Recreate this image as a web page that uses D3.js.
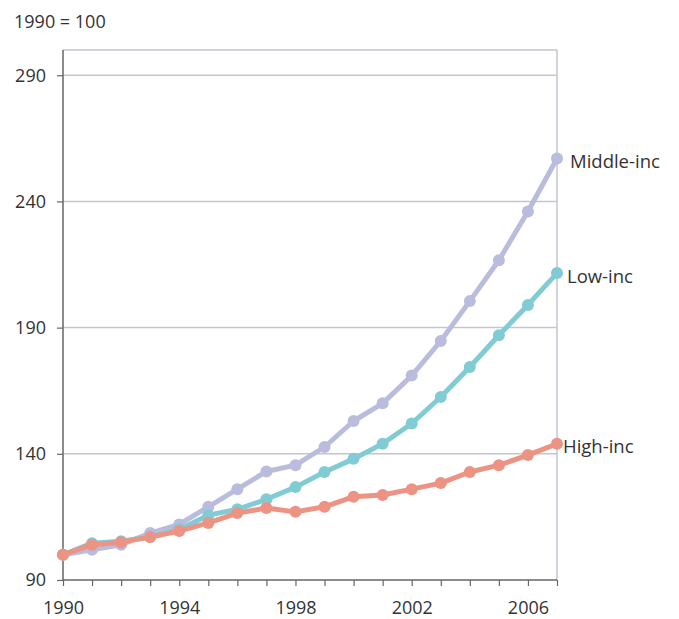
<!DOCTYPE html>
<html><head><meta charset="utf-8">
<script src="https://cdn.jsdelivr.net/npm/d3@7"></script>
<style>body{margin:0;background:#fff}svg{display:block}text{font-family:"Open Sans",Lato,sans-serif;fill:#333}</style>
</head><body><svg id="c" width="679" height="619"></svg>
<script>
const years = d3.range(1990, 2008);
const middleInc = [100,102,104,108.6,112,119,126,133,135.5,142.7,153,160,171,184.7,200.5,216.7,236,257];
const lowInc    = [100,104.6,105.4,107,110,115.7,118,122,126.8,132.8,138,144,152,162.5,174.4,187,199,211.6];
const highInc   = [100,104,105,107,109.4,112.6,116.5,118.5,117,119,123,123.7,126,128.4,132.8,135.5,139.5,144];
const yTicks = [90,140,190,240,290];
const xTickLabels = [1990,1994,1998,2002,2006];
const seriesNames = ["Middle-inc","Low-inc","High-inc"];
const seriesColors = ["#b9bcdc","#80cbd4","#ec9383"];
const labelOffsets = [13,10,6];

const svg = d3.select("#c");
const L=63,R=557,T=50,B=580;
const x = d3.scaleLinear().domain([1990,2007]).range([L,R]);
const y = d3.scaleLinear().domain([90,300]).range([B,T]);

// grid
svg.append("g").selectAll("line").data(yTicks.slice(1)).join("line")
  .attr("x1",L).attr("x2",R).attr("y1",d=>y(d)).attr("y2",d=>y(d))
  .attr("stroke","#c2c6cf").attr("stroke-width",1.5);
svg.append("line").attr("x1",L).attr("x2",R).attr("y1",T).attr("y2",T).attr("stroke","#c2c6cf").attr("stroke-width",1.5);
svg.append("line").attr("x1",R).attr("x2",R).attr("y1",T).attr("y2",B).attr("stroke","#c2c6cf").attr("stroke-width",1.5);

// y axis
const ya = svg.append("g").attr("transform",`translate(${L},0)`)
  .call(d3.axisLeft(y).tickValues(yTicks).tickSize(6).tickPadding(11).tickFormat(d3.format("d")));
ya.select(".domain").attr("stroke","#666").attr("stroke-width",1.5).attr("d",`M0,${T}V${B}`);
ya.selectAll(".tick line").attr("stroke","#666").attr("stroke-width",1.2);
ya.selectAll("text").style("font-size","18px").attr("fill","#333");

// x axis
const xa = svg.append("g").attr("transform",`translate(0,${B})`)
  .call(d3.axisBottom(x).tickValues(years).tickSize(6).tickPadding(15)
    .tickFormat(d=>xTickLabels.includes(d)?String(d):""));
xa.select(".domain").attr("stroke","#666").attr("stroke-width",1.5).attr("d",`M${L},0H${R}`);
xa.selectAll(".tick line").attr("stroke","#666").attr("stroke-width",1.2);
xa.selectAll("text").style("font-size","18px").attr("fill","#333");

svg.append("text").attr("x",14).attr("y",28).style("font-size","18px").text("1990 = 100");

const all = [middleInc,lowInc,highInc];
const line = d3.line().x((d,i)=>x(years[i])).y(d=>y(d));
all.forEach((s,k)=>{
  const g = svg.append("g");
  g.append("path").attr("d",line(s)).attr("fill","none").attr("stroke",seriesColors[k])
    .attr("stroke-width",5).attr("stroke-linejoin","round");
  g.selectAll("circle").data(s).join("circle").attr("cx",(d,i)=>x(years[i])).attr("cy",d=>y(d))
    .attr("r",6).attr("fill",seriesColors[k]);
  g.append("text").attr("x",x(2007)+labelOffsets[k]).attr("y",y(s[s.length-1])+9.5)
    .style("font-size","18.5px").text(seriesNames[k]);
});
</script></body></html>
